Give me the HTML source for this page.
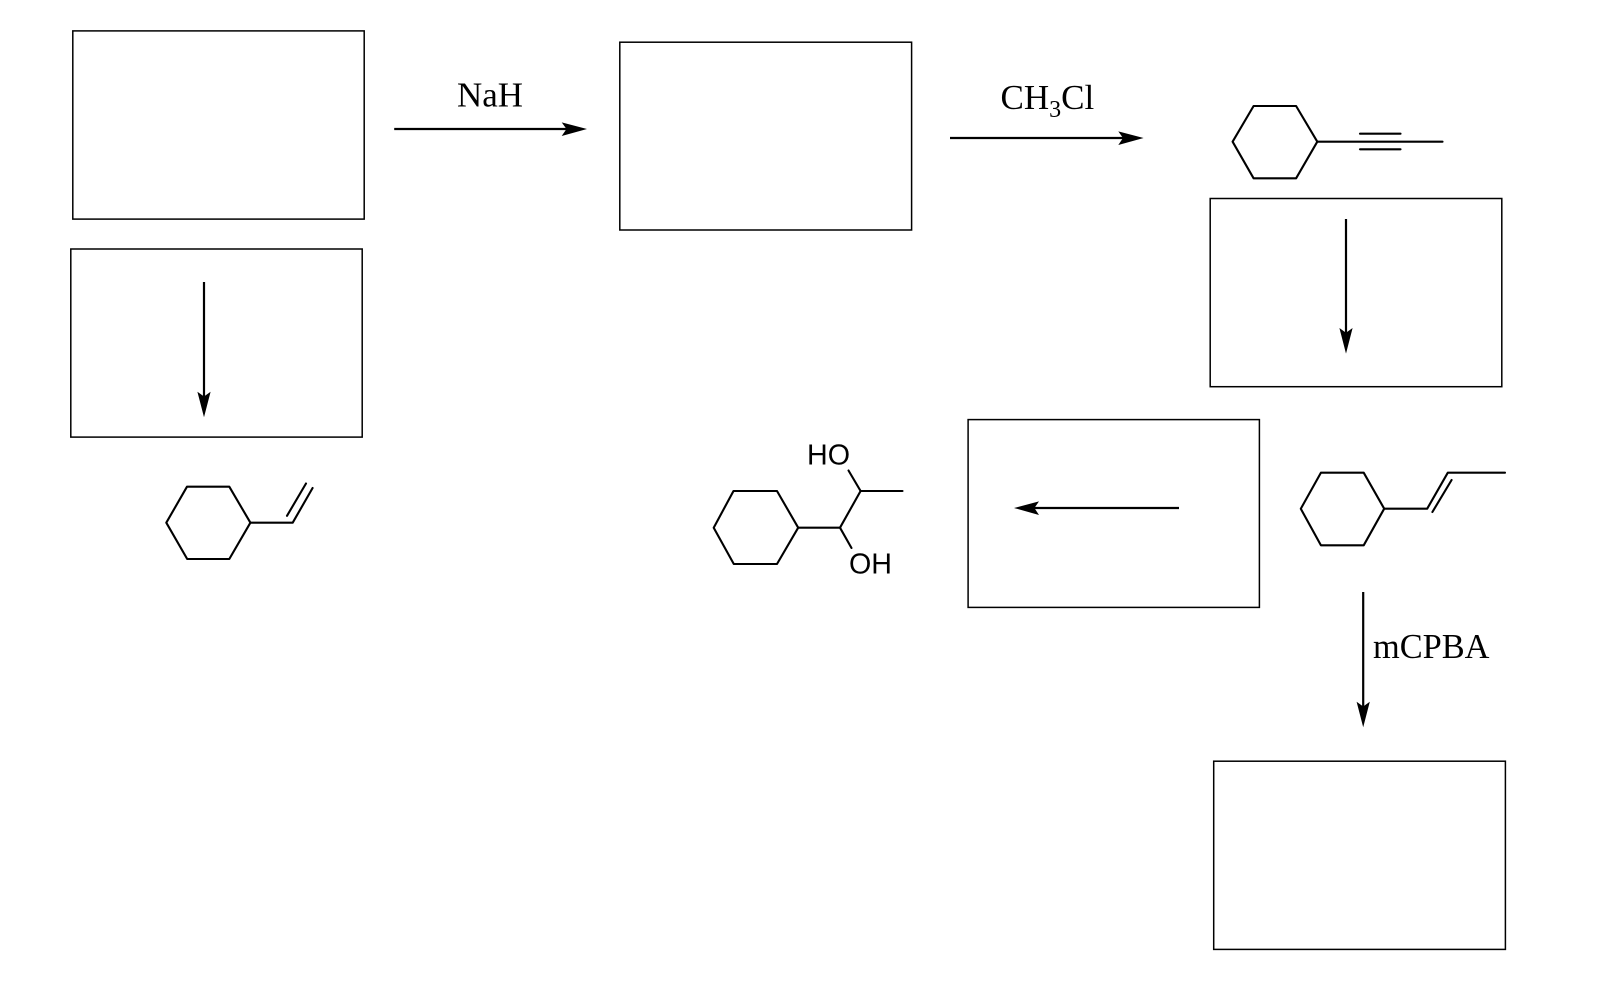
<!DOCTYPE html>
<html>
<head>
<meta charset="utf-8">
<style>
html,body{margin:0;padding:0;background:#fff;}
svg{display:block;}
.b{fill:none;stroke:#000;stroke-width:1.5;}
.m{fill:none;stroke:#000;stroke-width:2.1;stroke-linejoin:round;stroke-linecap:round;}
.a{fill:none;stroke:#000;stroke-width:2.2;}
.s{font-family:"Liberation Serif",serif;font-size:35px;fill:#000;}
.h{font-family:"Liberation Sans",sans-serif;font-size:29px;fill:#000;}
</style>
</head>
<body>
<svg width="1617" height="996" viewBox="0 0 1617 996" xmlns="http://www.w3.org/2000/svg">
<rect x="0" y="0" width="1617" height="996" fill="#fff"/>
<!-- boxes -->
<rect class="b" x="72.8" y="30.9" width="291.4" height="188.2"/>
<rect class="b" x="619.8" y="42.2" width="291.8" height="187.8"/>
<rect class="b" x="70.8" y="249" width="291.4" height="188.1"/>
<rect class="b" x="1210.2" y="198.5" width="291.6" height="188.2"/>
<rect class="b" x="968.1" y="419.6" width="291.3" height="187.8"/>
<rect class="b" x="1213.7" y="761.2" width="291.7" height="188.2"/>

<!-- arrows -->
<line class="a" x1="394.2" y1="129" x2="570" y2="129"/>
<polygon points="587,129 561.7,122.4 566.5,129 561.7,136" fill="#000"/>
<line class="a" x1="950" y1="138" x2="1126" y2="138"/>
<polygon points="1143.6,138 1118.3,131.4 1123,138 1118.3,145" fill="#000"/>
<line class="a" x1="204" y1="282" x2="204" y2="400"/>
<polygon points="204,417.3 197.4,391.7 204,396.5 210.6,391.7" fill="#000"/>
<line class="a" x1="1346" y1="219" x2="1346" y2="337"/>
<polygon points="1346,353.6 1339.4,328 1346,332.8 1352.6,328" fill="#000"/>
<line class="a" x1="1363.2" y1="592" x2="1363.2" y2="710"/>
<polygon points="1363.2,727.3 1356.6,701.7 1363.2,706.5 1369.8,701.7" fill="#000"/>
<line class="a" x1="1179" y1="508" x2="1031" y2="508"/>
<polygon points="1014,508 1039,501.4 1034.4,508 1039,515" fill="#000"/>

<!-- vinylcyclohexane -->
<polygon class="m" points="166.3,522.7 187,486.7 229.3,486.7 250.4,522.7 229.3,559 187.2,559"/>
<polyline class="m" points="250.4,522.7 292.7,522.7 312.6,488"/>
<line class="m" x1="287" y1="515.8" x2="306" y2="483.5"/>

<!-- propynylcyclohexane -->
<polygon class="m" points="1232.6,141.7 1253.6,106 1296.1,106 1317.3,141.7 1296.1,178.3 1253.6,178.3"/>
<line class="m" x1="1317.3" y1="141.7" x2="1442.5" y2="141.7"/>
<line class="m" x1="1360" y1="133.7" x2="1400.5" y2="133.7"/>
<line class="m" x1="1360" y1="149.3" x2="1400.5" y2="149.3"/>

<!-- propenylcyclohexane -->
<polygon class="m" points="1300.8,508.7 1320.9,472.7 1363.7,472.7 1384.2,508.7 1363.7,545.3 1320.9,545.3"/>
<polyline class="m" points="1384.2,508.7 1427.2,508.7 1447.8,472.7 1505,472.7"/>
<line class="m" x1="1432.4" y1="512" x2="1451.6" y2="480"/>

<!-- diol -->
<polygon class="m" points="713.7,527.7 733.5,491 777,491 798.2,527.7 777,564 733.8,564"/>
<polyline class="m" points="798.2,527.7 840,527.7 860.6,491 902.5,491"/>
<line class="m" x1="840" y1="527.7" x2="851.5" y2="548"/>
<line class="m" x1="860.6" y1="491" x2="848.5" y2="470.5"/>

<!-- labels -->
<text class="s" x="457" y="106.7" textLength="66" lengthAdjust="spacingAndGlyphs">NaH</text>
<text class="s" x="1000.5" y="109">CH<tspan font-size="24" dy="8">3</tspan><tspan dy="-8">Cl</tspan></text>
<text class="s" x="1373" y="658" textLength="116.5" lengthAdjust="spacingAndGlyphs">mCPBA</text>
<text class="h" x="807" y="464.5" textLength="43" lengthAdjust="spacingAndGlyphs">HO</text>
<text class="h" x="849" y="573.5" textLength="43" lengthAdjust="spacingAndGlyphs">OH</text>
</svg>
</body>
</html>
